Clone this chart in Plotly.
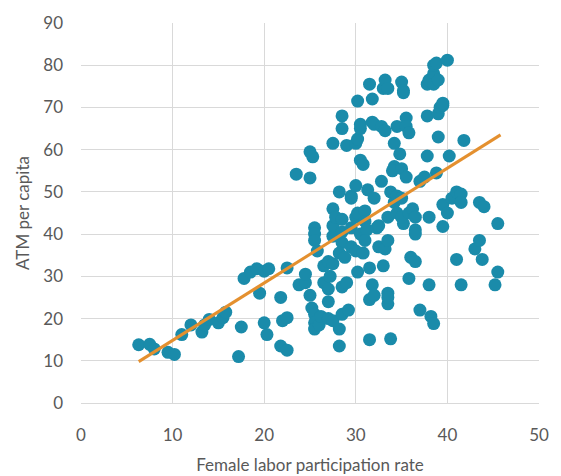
import plotly.graph_objects as go

# Female labor participation rate (%) per country
participation = [
    6.3, 7.5, 8.0, 9.5, 10.2, 11.0, 12.0, 13.2, 13.5, 14.0, 15.0, 15.5, 15.8,
    17.2, 17.5, 17.8, 18.5, 19.2, 20.0, 20.5, 19.5, 20.0, 20.3, 21.8, 22.5, 22.0, 22.5, 21.8, 22.5,
    23.5, 25.0, 25.3, 25.0, 23.8, 24.5, 24.5, 25.5, 25.5, 25.5, 25.8, 25.0, 25.2, 25.5, 25.5, 25.5,
    26.0, 26.2, 26.5, 26.5, 27.0, 27.0, 27.0, 27.5, 27.0, 27.2, 27.5, 27.5, 27.5, 27.5, 27.8, 27.5,
    28.2, 28.5, 28.5, 28.5, 28.2, 28.8, 28.5, 29.0, 28.5, 28.2, 28.2, 29.2, 28.5, 28.5, 29.0, 29.5,
    29.5, 29.5, 29.5, 30.0, 30.0, 30.0, 30.2, 30.0, 30.2, 30.5, 30.2, 30.5, 30.5, 30.8, 30.5, 30.2,
    30.8, 31.0, 31.0, 31.2, 31.0, 31.3, 31.5, 31.8, 31.8, 32.0, 31.5, 31.5, 31.5, 31.8, 32.0, 32.3,
    32.0, 32.5, 32.5, 32.8, 32.8, 33.0, 33.2, 33.5, 33.2, 33.5, 33.0, 33.2, 33.5, 33.5, 33.5, 33.5,
    33.8, 33.8, 34.2, 34.0, 34.2, 34.5, 34.5, 34.2, 34.5, 34.8, 35.0, 35.0, 35.2, 35.0, 35.0, 35.2,
    35.5, 35.5, 35.8, 35.2, 35.5, 35.8, 35.8, 36.0, 36.2, 36.5, 36.5, 36.5, 36.5, 37.0, 37.0, 37.5,
    37.8, 37.8, 37.8, 38.0, 38.5, 38.5, 38.8, 38.5, 39.0, 39.0, 39.2, 39.5, 39.5, 39.0, 38.8, 38.0,
    38.0, 38.2, 38.5, 39.5, 39.5, 40.0, 40.2, 40.0, 40.5, 41.0, 41.0, 41.5, 41.5, 41.8, 41.5, 43.0,
    43.5, 43.5, 44.0, 43.8, 45.2, 45.5, 45.5,
]

# ATMs per capita for the same countries
atm_per_capita = [
    13.8, 13.9, 12.8, 12.0, 11.5, 16.2, 18.5, 16.8, 18.5, 19.8, 19.0, 20.2, 21.5,
    11.0, 18.0, 29.5, 31.0, 31.8, 31.2, 31.8, 26.0, 19.0, 16.2, 13.5, 12.5, 19.5, 20.2, 25.0, 32.0,
    54.2, 59.5, 58.3, 53.3, 28.0, 28.5, 30.5, 41.5, 40.0, 38.5, 36.0, 25.5, 22.5, 21.0, 19.0, 17.5,
    18.5, 20.5, 28.5, 32.5, 27.0, 24.0, 20.0, 19.5, 33.5, 30.0, 33.0, 39.5, 42.0, 46.0, 44.0, 61.5,
    50.0, 43.5, 40.5, 38.0, 35.5, 34.5, 27.5, 28.5, 21.0, 17.5, 13.5, 22.0, 68.0, 65.0, 61.0, 49.0,
    48.5, 41.5, 37.0, 36.0, 44.0, 51.5, 45.0, 61.5, 62.5, 65.0, 71.5, 66.0, 57.5, 56.5, 40.0, 31.0,
    35.5, 45.5, 43.0, 41.0, 38.5, 50.5, 75.5, 72.0, 66.5, 66.0, 32.0, 24.5, 15.0, 28.0, 25.5, 41.5,
    48.5, 42.0, 37.0, 52.5, 65.5, 74.5, 76.5, 74.5, 64.5, 44.0, 32.5, 36.5, 38.5, 26.0, 23.5, 25.0,
    15.2, 50.0, 56.0, 55.0, 47.5, 49.0, 45.0, 61.5, 65.5, 59.0, 55.5, 48.5, 42.5, 44.0, 76.0, 74.0,
    67.5, 65.5, 64.0, 73.5, 53.5, 45.0, 29.5, 34.5, 46.0, 44.0, 41.0, 40.0, 33.5, 22.0, 52.5, 53.5,
    58.5, 68.0, 75.5, 76.5, 78.0, 80.0, 80.5, 75.5, 76.5, 68.5, 70.0, 70.5, 71.0, 63.0, 54.5, 44.0,
    28.0, 20.5, 18.8, 41.8, 47.0, 45.0, 58.5, 81.2, 48.5, 34.0, 50.0, 49.5, 47.5, 62.2, 28.0, 36.5,
    38.5, 47.5, 46.5, 34.0, 28.0, 31.0, 42.5,
]

# Linear trendline endpoints
trend_x = [6.3, 45.8]
trend_y = [9.8, 63.5]

x_ticks = [0, 10, 20, 30, 40, 50]
y_ticks = [0, 10, 20, 30, 40, 50, 60, 70, 80, 90]

text_color = "#595959"
grid_color = "#D9D9D9"
font_family = "Lato, 'Open Sans', sans-serif"

fig = go.Figure()
fig.add_trace(go.Scatter(
    x=participation, y=atm_per_capita, mode="markers",
    marker=dict(size=13, color="#1A8BAA", line=dict(width=0)),
    showlegend=False, hoverinfo="x+y",
))
fig.add_trace(go.Scatter(
    x=trend_x, y=trend_y, mode="lines",
    line=dict(color="#E4902F", width=3),
    showlegend=False, hoverinfo="skip",
))

fig.update_layout(
    width=561, height=476,
    margin=dict(l=81, r=22, t=23, b=73),
    paper_bgcolor="white", plot_bgcolor="white",
    font=dict(family=font_family, size=16, color=text_color),
)
fig.update_xaxes(
    range=[0, 50], tickvals=x_ticks, ticktext=[str(v) for v in x_ticks],
    showgrid=True, gridcolor=grid_color, gridwidth=1,
    zeroline=False, showline=True, linecolor=grid_color, linewidth=1,
    automargin=False,
    ticks="", ticklabelstandoff=17, tickfont=dict(size=17, color=text_color),
    title=dict(text="Female labor participation rate", font=dict(size=17, color=text_color), standoff=14),
)
fig.update_yaxes(
    range=[0, 90], tickvals=y_ticks, ticktext=[str(v) for v in y_ticks],
    showgrid=True, gridcolor=grid_color, gridwidth=1,
    zeroline=False, showline=False,
    automargin=False,
    ticks="", ticklabelstandoff=17, tickfont=dict(size=17, color=text_color),
    title=dict(text="ATM per capita", font=dict(size=17, color=text_color), standoff=9),
)

fig.write_html("out.html")
